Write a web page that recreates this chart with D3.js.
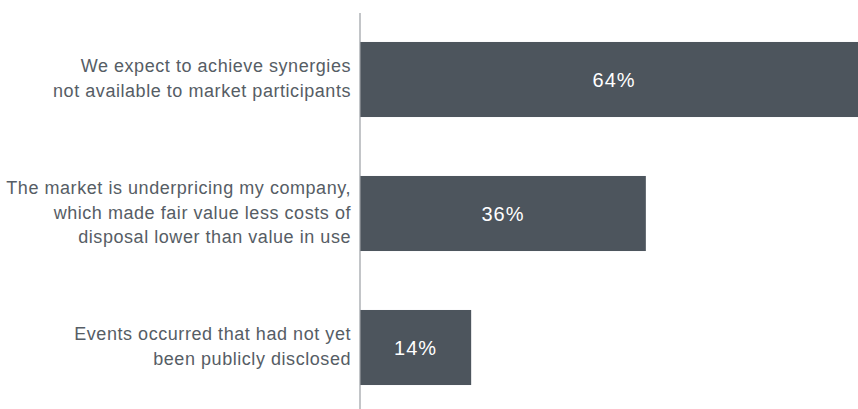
<!DOCTYPE html>
<html>
<head>
<meta charset="utf-8">
<script src="https://cdn.jsdelivr.net/npm/d3@7"></script>
<style>
html,body{margin:0;padding:0;background:#fff;}
svg{display:block;}
</style>
</head>
<body>
<svg id="chart" width="858" height="409"></svg>
<script>
const categories = [
  ["We expect to achieve synergies", "not available to market participants"],
  ["The market is underpricing my company,", "which made fair value less costs of", "disposal lower than value in use"],
  ["Events occurred that had not yet", "been publicly disclosed"]
];
const values = [64, 36, 14];
const valueLabels = ["64%", "36%", "14%"];

const svg = d3.select("#chart");
const W = 858, H = 409;
const x = d3.scaleLinear().domain([0, 100]).range([360, 1154]);
const y = d3.scaleBand().domain(d3.range(categories.length)).range([12.5, 414.5])
  .paddingInner(0.44).paddingOuter(0.22);

const barColor = "#4d555d";
const textColor = "#565d65";

svg.selectAll("rect.bar").data(values).enter().append("rect")
  .attr("class", "bar")
  .attr("x", x(0))
  .attr("y", (d, i) => y(i))
  .attr("width", d => x(d) - x(0))
  .attr("height", y.bandwidth())
  .attr("fill", barColor);

svg.selectAll("text.val").data(values).enter().append("text")
  .attr("class", "val")
  .attr("x", d => (x(0) + x(d)) / 2)
  .attr("y", (d, i) => y(i) + y.bandwidth() / 2 + 7)
  .attr("text-anchor", "middle")
  .attr("fill", "#ffffff")
  .attr("font-family", "Liberation Sans, Arial, sans-serif")
  .attr("font-size", 20)
  .attr("letter-spacing", 1)
  .text((d, i) => valueLabels[i]);

const lineH = 24.3;
const labels = svg.selectAll("text.cat").data(categories).enter().append("text")
  .attr("class", "cat")
  .attr("text-anchor", "end")
  .attr("fill", textColor)
  .attr("font-family", "Liberation Sans, Arial, sans-serif")
  .attr("font-size", 18)
  .attr("letter-spacing", 0.55);
labels.each(function(lines, i) {
  const cy = y(i) + y.bandwidth() / 2;
  const first = cy - (lines.length - 1) * lineH / 2 + 5;
  d3.select(this).selectAll("tspan").data(lines).enter().append("tspan")
    .attr("x", 351)
    .attr("y", (l, j) => first + j * lineH)
    .text(l => l);
});

svg.append("line")
  .attr("x1", x(0)).attr("x2", x(0))
  .attr("y1", 13).attr("y2", H)
  .attr("stroke", "#9a9ea3").attr("stroke-width", 1.2);
</script>
</body>
</html>
